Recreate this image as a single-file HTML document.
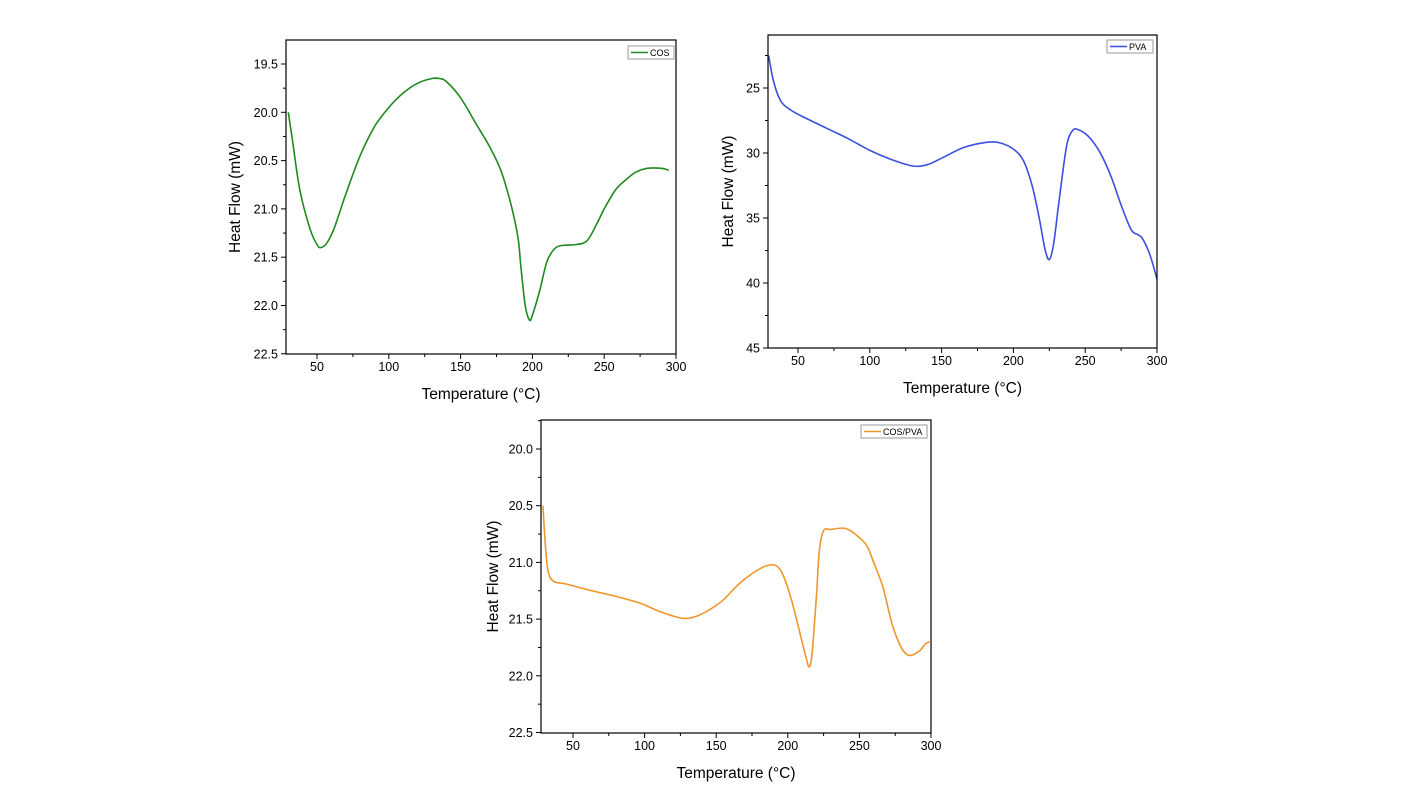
<!DOCTYPE html>
<html><head><meta charset="utf-8"><style>
body{margin:0;background:#fff;width:1427px;height:803px;overflow:hidden}
svg{font-family:"Liberation Sans",Arial,sans-serif}
</style></head><body>
<svg id="svg" width="1427" height="803"></svg>
<script>
const cosX=[30,33,38,45,50,53,57,62,70,80,90,100,110,120,130,135,140,150,160,170,178,185,190,192,195,198,200,205,210,215,220,230,238,245,250,258,265,272,280,290,295];
const cosY=[20.0,20.3,20.8,21.2,21.37,21.4,21.35,21.2,20.85,20.45,20.15,19.95,19.8,19.7,19.65,19.65,19.68,19.85,20.1,20.35,20.6,20.95,21.3,21.6,22.0,22.15,22.1,21.85,21.55,21.42,21.38,21.37,21.33,21.15,21.0,20.8,20.7,20.62,20.58,20.58,20.6];
const pvaX=[29.5,33,38,45,55,70,85,100,115,130,140,150,165,180,190,200,207,213,218,222,225,228,232,237,241,245,252,260,268,275,282,287,290,295,300];
const pvaY=[22.5,24.5,26,26.7,27.3,28.1,28.9,29.8,30.5,31.0,30.9,30.4,29.6,29.2,29.2,29.7,30.6,32.5,35,37.4,38.2,37,33.5,29.5,28.3,28.2,28.7,29.9,31.8,34,35.9,36.3,36.6,37.8,39.7];
const mixX=[29,31,33,37,45,60,80,97,110,125,135,145,155,165,175,185,192,197,203,208,213,215,217,220,222,225,230,240,248,255,260,266,270,273,278,282,286,292,296,299];
const mixY=[20.5,20.9,21.1,21.17,21.19,21.24,21.3,21.36,21.43,21.49,21.48,21.42,21.33,21.2,21.1,21.03,21.03,21.12,21.35,21.6,21.85,21.92,21.8,21.3,20.9,20.72,20.71,20.7,20.76,20.85,21.0,21.2,21.4,21.55,21.72,21.8,21.82,21.78,21.72,21.7];
const xTicks=[50,100,150,200,250,300];
const ticksA=[19.5,20.0,20.5,21.0,21.5,22.0,22.5];
const ticksB=[25,30,35,40,45];
const ticksC=[20.0,20.5,21.0,21.5,22.0,22.5];
const NS="http://www.w3.org/2000/svg";
const svg=document.getElementById('svg');
function mk(t,a,p){const e=document.createElementNS(NS,t);for(const k in a)e.setAttribute(k,a[k]);(p||svg).appendChild(e);return e;}
function smooth(P){let d='M'+P[0][0].toFixed(1)+','+P[0][1].toFixed(1);
 for(let i=0;i<P.length-1;i++){const p0=P[i-1]||P[i],p1=P[i],p2=P[i+1],p3=P[i+2]||p2;
  const c1=[p1[0]+(p2[0]-p0[0])/6,p1[1]+(p2[1]-p0[1])/6],c2=[p2[0]-(p3[0]-p1[0])/6,p2[1]-(p3[1]-p1[1])/6];
  d+=` C${c1[0].toFixed(1)},${c1[1].toFixed(1)} ${c2[0].toFixed(1)},${c2[1].toFixed(1)} ${p2[0].toFixed(1)},${p2[1].toFixed(1)}`;}
 return d;}
function chart(o){
 const g=mk('g',{});
 
 
 const sx=v=>o.p50+(v-50)*o.kx, sy=v=>o.y0+(v-o.ya)*o.ky;
 xTicks.forEach((t,i)=>{const x=sx(t);
  mk('line',{x1:x,x2:x,y1:o.y1,y2:o.y1+5,stroke:'#000'},g);
  const m=sx(t-25); if(m>o.x0) mk('line',{x1:m,x2:m,y1:o.y1,y2:o.y1+3,stroke:'#000'},g);
  const tl=mk('text',{x:x,y:o.y1+17,'font-size':12.5,'text-anchor':'middle'},g);tl.textContent=t;
  
 });
 o.yt.forEach((t,i)=>{const y=sy(t);
  mk('line',{x1:o.x0,x2:o.x0-5,y1:y,y2:y,stroke:'#000'},g);
  const m=sy(t-o.ystep/2); if(m>o.y0t) mk('line',{x1:o.x0,x2:o.x0-3,y1:m,y2:m,stroke:'#000'},g);
  const tl=mk('text',{x:o.x0-8,y:y+4.5,'font-size':12.5,'text-anchor':'end'},g);tl.textContent=o.fmt(t);
  
 });
 const P=o.xs.map((v,i)=>[sx(v),sy(o.ys[i])]);
 const pl=mk('path',{d:smooth(P),fill:'none',stroke:o.color,'stroke-width':1.6,'stroke-linejoin':'round'},g);
 
 const fr=mk('rect',{x:o.x0,y:o.y0t,width:o.x1-o.x0,height:o.y1-o.y0t,fill:'none',stroke:'#000','stroke-width':1.2},g);
 
 const lg=mk('g',{},g);
 
 mk('rect',{x:o.lx,y:o.ly,width:o.lw,height:13,fill:'#fff',stroke:'#999'},lg);
 mk('line',{x1:o.lx+3,x2:o.lx+20,y1:o.ly+6.5,y2:o.ly+6.5,stroke:o.color,'stroke-width':1.5},lg);
 const lt=mk('text',{x:o.lx+22,y:o.ly+10,'font-size':9},lg);lt.textContent=o.label;
 const xt=mk('text',{x:(o.x0+o.x1)/2,y:o.y1+45,'font-size':15.5,'text-anchor':'middle'},g);xt.textContent='Temperature (°C)';
 
 const cy=(o.y0t+o.y1)/2;
 const yt=mk('text',{x:o.ytx,y:cy,'font-size':15.5,'text-anchor':'middle',transform:`rotate(-90 ${o.ytx} ${cy})`},g);yt.textContent='Heat Flow (mW)';
 
}
const f1=v=>v.toFixed(1), f0=v=>String(v);
chart({name:'cos-chart',x0:286,x1:676,p50:317,y0t:40,y1:354,kx:1.436,y0:64,ya:19.5,ky:96.6,yt:ticksA,ystep:0.5,fmt:f1,xs:cosX,ys:cosY,color:'#1f8a1f',lx:628,ly:46,lw:46,label:'COS',ytx:240});
chart({name:'pva-chart',x0:768,x1:1157,p50:798,y0t:35,y1:348,kx:1.436,y0:88,ya:25,ky:13.0,yt:ticksB,ystep:5,fmt:f0,xs:pvaX,ys:pvaY,color:'#3a4fe0',lx:1107,ly:40,lw:46,label:'PVA',ytx:733});
chart({name:'cos-pva-chart',x0:541,x1:931,p50:573,y0t:420,y1:733,kx:1.432,y0:449,ya:20.0,ky:113.4,yt:ticksC,ystep:0.5,fmt:f1,xs:mixX,ys:mixY,color:'#f0962a',lx:861,ly:425,lw:66,label:'COS/PVA',ytx:498});
</script>
</body></html>
